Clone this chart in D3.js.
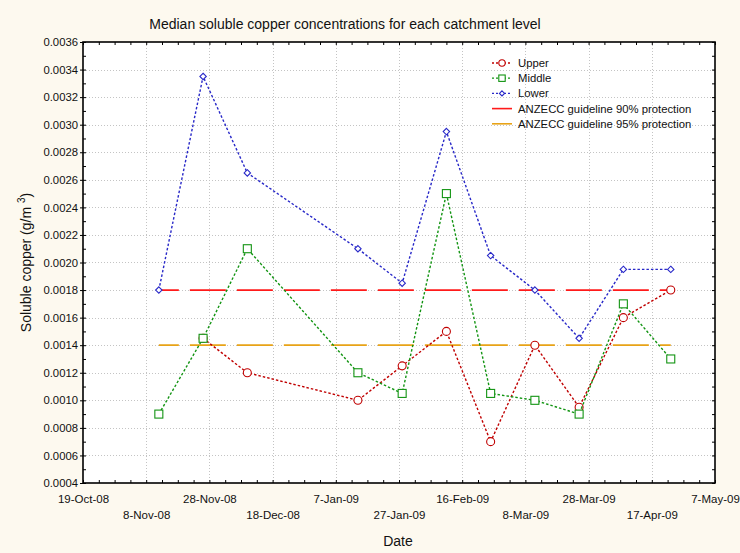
<!DOCTYPE html>
<html>
<head>
<meta charset="utf-8">
<script src="https://cdn.jsdelivr.net/npm/d3@7"></script>
<style>
  body { margin: 0; background: #fdf9ef; }
  svg { display: block; font-family: "Liberation Sans", Arial, sans-serif; }
</style>
</head>
<body>
<svg id="chart"></svg>
<script>
var width = 740;
var height = 553;
var margin = {left: 83, right: 25, top: 42, bottom: 70};

// sampling dates and medians
var sampleDates = ["2008-11-12", "2008-11-26", "2008-12-10", "2009-01-14", "2009-01-28",
                   "2009-02-11", "2009-02-25", "2009-03-11", "2009-03-25", "2009-04-08", "2009-04-23"];
var upper  = [null, 0.00145, 0.0012, 0.0010, 0.00125, 0.0015, 0.0007, 0.0014, 0.00095, 0.0016, 0.0018];
var middle = [0.0009, 0.00145, 0.0021, 0.0012, 0.00105, 0.0025, 0.00105, 0.0010, 0.0009, 0.0017, 0.0013];
var lower  = [0.0018, 0.00335, 0.00265, 0.0021, 0.00185, 0.00295, 0.00205, 0.0018, 0.00145, 0.00195, 0.00195];
var guide90 = 0.0018;
var guide95 = 0.0014;

var xTickDates = ["2008-10-19", "2008-11-08", "2008-11-28", "2008-12-18", "2009-01-07", "2009-01-27",
                  "2009-02-16", "2009-03-08", "2009-03-28", "2009-04-17", "2009-05-07"];
var yTicks = [0.0004, 0.0006, 0.0008, 0.0010, 0.0012, 0.0014, 0.0016, 0.0018, 0.0020,
              0.0022, 0.0024, 0.0026, 0.0028, 0.0030, 0.0032, 0.0034, 0.0036];

var parseDate = d3.utcParse("%Y-%m-%d");
var fmtDate = d3.utcFormat("%-d-%b-%y");
var dates = sampleDates.map(parseDate);
var xTicks = xTickDates.map(parseDate);

var svg = d3.select("#chart").attr("width", width).attr("height", height);

var x = d3.scaleUtc()
    .domain([xTicks[0], xTicks[xTicks.length - 1]])
    .range([margin.left, width - margin.right]);
var y = d3.scaleLinear()
    .domain([0.0004, 0.0036])
    .range([height - margin.bottom, margin.top]);

var x0 = x.range()[0], x1 = x.range()[1];
var y0 = y.range()[0], y1 = y.range()[1];

// plot background
svg.append("rect")
    .attr("x", x0).attr("y", y1)
    .attr("width", x1 - x0).attr("height", y0 - y1)
    .attr("fill", "#ffffff");

// grid
var grid = svg.append("g").attr("stroke", "#c4c4c4").attr("stroke-width", 1).attr("stroke-dasharray", "1,2");
grid.selectAll("line.h")
    .data(yTicks.slice(1, -1))
    .enter().append("line")
    .attr("x1", x0).attr("x2", x1)
    .attr("y1", function (d) { return Math.round(y(d)) + 0.5; })
    .attr("y2", function (d) { return Math.round(y(d)) + 0.5; });
grid.selectAll("line.v")
    .data(xTicks.slice(1, -1))
    .enter().append("line")
    .attr("y1", y1).attr("y2", y0)
    .attr("x1", function (d) { return Math.round(x(d)) + 0.5; })
    .attr("x2", function (d) { return Math.round(x(d)) + 0.5; });

// guideline lines
function guideLine(value, color) {
    svg.append("path")
        .datum(dates)
        .attr("fill", "none")
        .attr("stroke", color)
        .attr("stroke-width", 1.8)
        .attr("stroke-dasharray", "36,11")
        .attr("stroke-dashoffset", 16)
        .attr("d", d3.line().x(function (d) { return x(d); }).y(function () { return y(value); }));
}
guideLine(guide90, "#ff1a1a");
guideLine(guide95, "#e8a317");

// series
var series = [
    {name: "Upper", values: upper, color: "#c00000", shape: "circle"},
    {name: "Middle", values: middle, color: "#129412", shape: "square"},
    {name: "Lower", values: lower, color: "#2828c8", shape: "diamond"}
];

function drawMarker(g, shape, color, cx, cy, s) {
    if (shape === "circle") {
        g.append("circle").attr("cx", cx).attr("cy", cy).attr("r", 4 * s)
            .attr("fill", "#fff").attr("stroke", color).attr("stroke-width", 1.1);
    } else if (shape === "square") {
        g.append("rect").attr("x", cx - 4 * s).attr("y", cy - 4 * s)
            .attr("width", 8 * s).attr("height", 8 * s)
            .attr("fill", "#fff").attr("stroke", color).attr("stroke-width", 1.1);
    } else {
        var r = 3.2 * s;
        g.append("path")
            .attr("d", "M" + cx + "," + (cy - r) + "L" + (cx + r) + "," + cy + "L" + cx + "," + (cy + r) + "L" + (cx - r) + "," + cy + "Z")
            .attr("fill", "#fff").attr("stroke", color).attr("stroke-width", 1.1);
    }
}

series.forEach(function (s) {
    var pts = dates.map(function (d, i) { return {date: d, value: s.values[i]}; })
        .filter(function (p) { return p.value !== null; });
    svg.append("path")
        .datum(pts)
        .attr("fill", "none")
        .attr("stroke", s.color)
        .attr("stroke-width", 1.4)
        .attr("stroke-dasharray", "2.5,2")
        .attr("d", d3.line().x(function (p) { return x(p.date); }).y(function (p) { return y(p.value); }));
    var g = svg.append("g");
    pts.forEach(function (p) { drawMarker(g, s.shape, s.color, x(p.date), y(p.value), 1); });
});

// axes
var yAxis = d3.axisLeft(y).tickValues(yTicks).tickFormat(d3.format(".4f")).tickSize(3).tickPadding(2);
svg.append("g")
    .attr("transform", "translate(" + x0 + ",0)")
    .call(yAxis)
    .call(function (g) {
        g.select(".domain").remove();
        g.selectAll("line").attr("stroke", "#000");
        g.selectAll("text").attr("font-size", 11.3).attr("fill", "#111");
    });

var xAxis = d3.axisBottom(x).tickValues(xTicks).tickFormat(fmtDate).tickSize(0).tickPadding(0);
svg.append("g")
    .attr("transform", "translate(0," + y0 + ")")
    .call(xAxis)
    .call(function (g) {
        g.select(".domain").remove();
        g.selectAll("text")
            .attr("font-size", 11.5).attr("fill", "#111")
            .attr("dy", null)
            .attr("y", function (d, i) { return i % 2 === 0 ? 20 : 36; });
    });

// minor inward ticks
var minorX = d3.utcDay.range(xTicks[0], d3.utcDay.offset(xTicks[xTicks.length - 1], 1)).filter(function (d, i) { return i % 5 === 0; });
var minorY = d3.range(0, 33).map(function (i) { return 0.0004 + i * 0.0001; });
svg.append("g")
    .attr("transform", "translate(0," + y0 + ")")
    .call(d3.axisBottom(x).tickValues(minorX).tickSize(-3).tickFormat(""))
    .call(function (g) { g.select(".domain").remove(); });
svg.append("g")
    .attr("transform", "translate(0," + y1 + ")")
    .call(d3.axisTop(x).tickValues(minorX).tickSize(-3).tickFormat(""))
    .call(function (g) { g.select(".domain").remove(); });
svg.append("g")
    .attr("transform", "translate(" + x0 + ",0)")
    .call(d3.axisLeft(y).tickValues(minorY).tickSize(-3).tickFormat(""))
    .call(function (g) { g.select(".domain").remove(); });
svg.append("g")
    .attr("transform", "translate(" + x1 + ",0)")
    .call(d3.axisRight(y).tickValues(minorY).tickSize(-3).tickFormat(""))
    .call(function (g) { g.select(".domain").remove(); });

// frame
svg.append("rect")
    .attr("x", x0).attr("y", y1)
    .attr("width", x1 - x0).attr("height", y0 - y1)
    .attr("fill", "none").attr("stroke", "#000").attr("stroke-width", 1.6);

// title and axis labels
svg.append("text")
    .attr("x", 345).attr("y", 29)
    .attr("text-anchor", "middle")
    .attr("font-size", 14).attr("fill", "#111")
    .text("Median soluble copper concentrations for each catchment level");

svg.append("text")
    .attr("x", 398).attr("y", 546)
    .attr("text-anchor", "middle")
    .attr("font-size", 14).attr("fill", "#111")
    .text("Date");

var yl = svg.append("text")
    .attr("transform", "translate(31," + ((y0 + y1) / 2) + ") rotate(-90)")
    .attr("text-anchor", "middle")
    .attr("font-size", 14).attr("fill", "#111");
yl.append("tspan").text("Soluble copper (g/m ");
yl.append("tspan").attr("font-size", 10).attr("dy", -6).text("3");
yl.append("tspan").attr("dy", 6).text(")");

// legend
var legendItems = [
    {label: "Upper", color: "#c00000", shape: "circle", dotted: true},
    {label: "Middle", color: "#129412", shape: "square", dotted: true},
    {label: "Lower", color: "#2828c8", shape: "diamond", dotted: true},
    {label: "ANZECC guideline 90% protection", color: "#ff1a1a", shape: null, dotted: false},
    {label: "ANZECC guideline 95% protection", color: "#e8a317", shape: null, dotted: false}
];
var legend = svg.append("g");
legendItems.forEach(function (d, i) {
    var ly = 63 + i * 15.2;
    legend.append("line")
        .attr("x1", 492).attr("x2", 512).attr("y1", ly).attr("y2", ly)
        .attr("stroke", d.color)
        .attr("stroke-width", d.dotted ? 1.3 : 1.6)
        .attr("stroke-dasharray", d.dotted ? "2,2" : null);
    if (d.shape) drawMarker(legend, d.shape, d.color, 502, ly, 0.8);
    legend.append("text")
        .attr("x", 518).attr("y", ly + 4)
        .attr("font-size", 11.3).attr("fill", "#111")
        .text(d.label);
});
</script>
</body>
</html>
